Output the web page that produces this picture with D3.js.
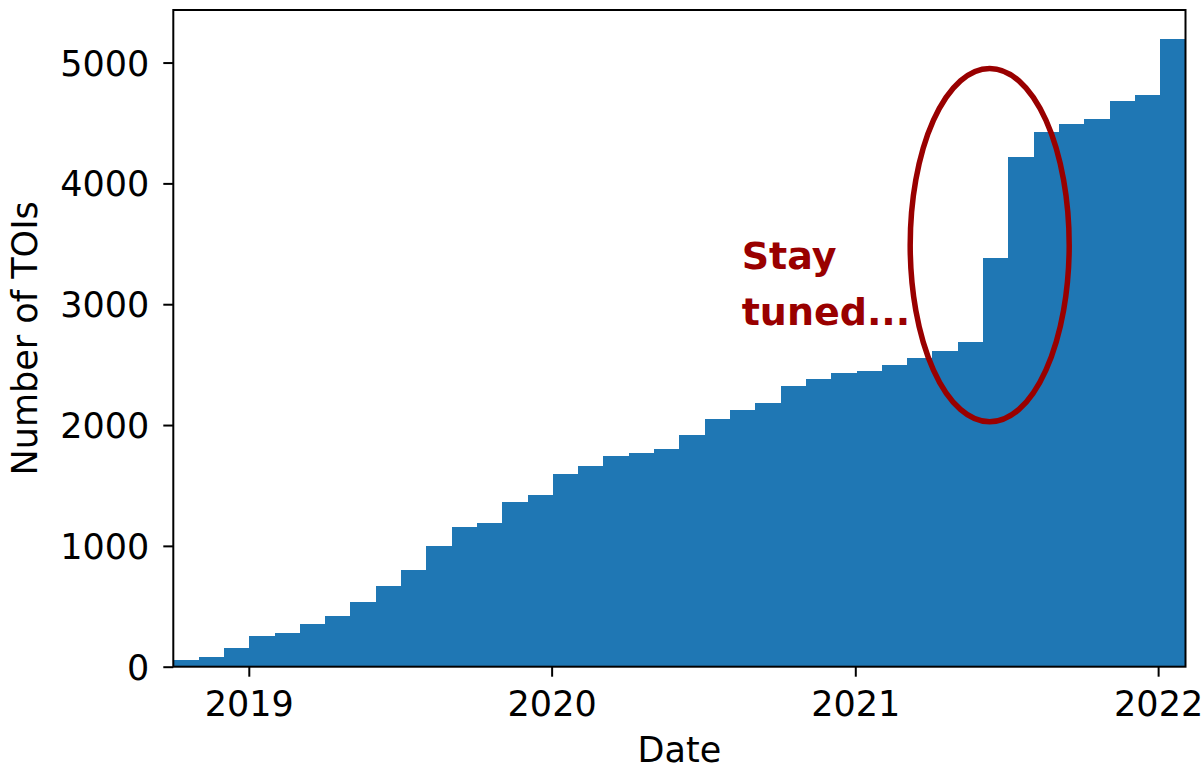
<!DOCTYPE html>
<html>
<head>
<meta charset="utf-8">
<script src="https://cdn.jsdelivr.net/npm/d3@7"></script>
<style>
  body { margin: 0; background: #fff; }
  text { font-family: "DejaVu Sans", sans-serif; }
</style>
</head>
<body>
<div id="chart"></div>
<script>
// cumulative TOI counts, 40 equal-width histogram bins
const binStart = new Date(2018, 9, 2);
const binEnd = new Date(2022, 1, 3);
const counts = [55, 77, 155, 255, 279, 351, 418, 534, 667, 802,
  996, 1154, 1187, 1364, 1422, 1591, 1664, 1740, 1770, 1801,
  1914, 2047, 2127, 2180, 2324, 2384, 2434, 2451, 2495, 2553,
  2609, 2688, 3381, 4219, 4426, 4493, 4537, 4686, 4728, 5193];
const yearTicks = [2019, 2020, 2021, 2022];
const yTicks = [0, 1000, 2000, 3000, 4000, 5000];
const noteLines = ["Stay", "tuned..."];

const W = 1201, H = 766;
const margin = { top: 10, right: 15.5, bottom: 99.3, left: 173.3 };
const width = W - margin.left - margin.right;
const height = H - margin.top - margin.bottom;

const svg = d3.select("#chart")
  .append("svg")
  .attr("width", W)
  .attr("height", H);

const g = svg.append("g")
  .attr("transform", `translate(${margin.left},${margin.top})`);

const x = d3.scaleTime().domain([binStart, binEnd]).range([0, width]);
const y = d3.scaleLinear().domain([0, 5435]).range([height, 0]);

// bin edges
const step = (binEnd - binStart) / counts.length;
const bins = counts.map((c, i) => ({
  x0: new Date(+binStart + i * step),
  x1: new Date(+binStart + (i + 1) * step),
  value: c
}));

g.selectAll("rect.bar")
  .data(bins)
  .enter()
  .append("rect")
  .attr("class", "bar")
  .attr("x", d => x(d.x0))
  .attr("width", d => x(d.x1) - x(d.x0) + 0.5)
  .attr("y", d => y(d.value))
  .attr("height", d => height - y(d.value))
  .attr("fill", "#1f77b4")
  .attr("shape-rendering", "crispEdges");

// axes
const xAxis = g.append("g")
  .attr("transform", `translate(0,${height})`)
  .call(d3.axisBottom(x)
    .tickValues(yearTicks.map(yr => new Date(yr, 0, 1)))
    .tickFormat(d3.timeFormat("%Y"))
    .tickSize(10)
    .tickPadding(14));

const yAxis = g.append("g")
  .call(d3.axisLeft(y)
    .tickValues(yTicks)
    .tickFormat(d3.format("d"))
    .tickSize(10)
    .tickPadding(14));

[xAxis, yAxis].forEach(a => {
  a.select(".domain").remove();
  a.selectAll(".tick line").attr("stroke", "#000").attr("stroke-width", 2);
  a.selectAll(".tick text")
    .attr("font-size", 35)
    .attr("font-family", "DejaVu Sans")
    .attr("fill", "#000");
});
yAxis.selectAll(".tick text").attr("dy", "0.36em");

// frame
g.append("rect")
  .attr("width", width)
  .attr("height", height)
  .attr("fill", "none")
  .attr("stroke", "#000")
  .attr("stroke-width", 2);

// axis labels
svg.append("text")
  .attr("x", margin.left + width / 2)
  .attr("y", 762)
  .attr("text-anchor", "middle")
  .attr("font-size", 35)
  .text("Date");

svg.append("text")
  .attr("transform", `translate(37,${margin.top + height / 2}) rotate(-90)`)
  .attr("text-anchor", "middle")
  .attr("font-size", 35)
  .text("Number of TOIs");

// annotation
const red = "#990000";
g.append("ellipse")
  .attr("cx", x(new Date(2021, 5, 12)))
  .attr("cy", y(3489))
  .attr("rx", 79.5)
  .attr("ry", 176.7)
  .attr("fill", "none")
  .attr("stroke", red)
  .attr("stroke-width", 5.5);

const note = g.append("text")
  .attr("x", 741.7 - margin.left)
  .attr("y", 269 - margin.top)
  .attr("fill", red)
  .attr("font-family", "'Open Sans', sans-serif")
  .attr("font-weight", 700)
  .attr("font-size", 38);

note.selectAll("tspan")
  .data(noteLines)
  .enter()
  .append("tspan")
  .attr("x", 741.7 - margin.left)
  .attr("dy", (d, i) => i === 0 ? 0 : 56)
  .text(d => d);
</script>
</body>
</html>
